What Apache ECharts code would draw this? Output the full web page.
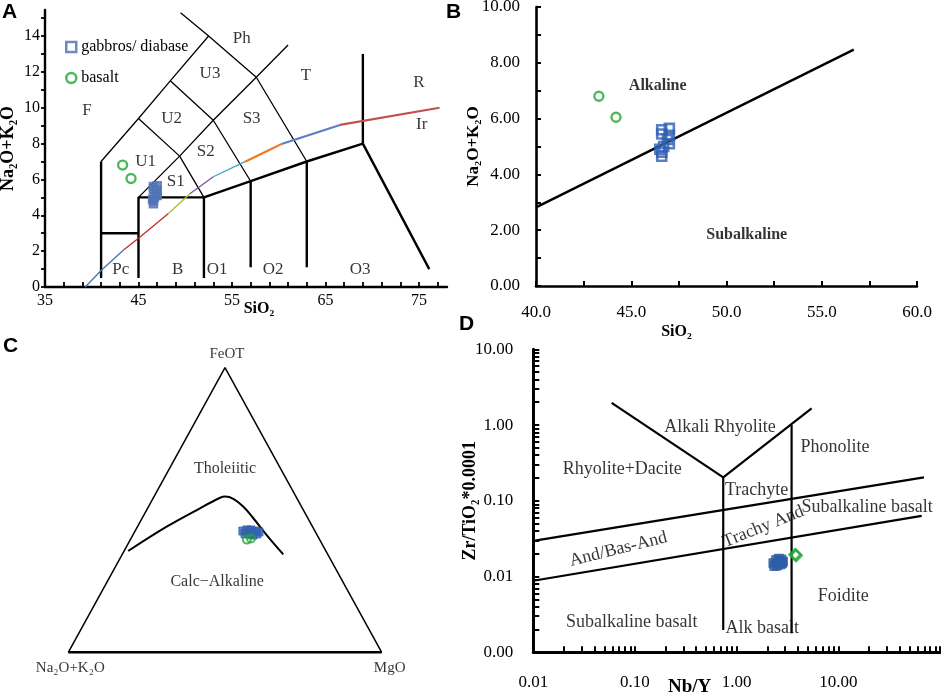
<!DOCTYPE html>
<html><head><meta charset="utf-8">
<script src="https://cdn.jsdelivr.net/npm/echarts@6/dist/echarts.min.js"></script>
<style>html,body{margin:0;padding:0;background:#fff}#c{width:941px;height:694px}</style>
</head><body><div id="c"></div>
<script>
// ================= DATA =================
// Samples, TAS space [SiO2, Na2O+K2O]  (panels A and B)
const gabbroTAS = [[46.6,5.6],[47.0,5.65],[46.6,5.45],[47.0,5.4],[46.9,5.25],[47.0,5.1],[46.7,5.0],[46.5,4.9],[46.6,4.8],[46.6,4.65]];
const basaltTAS = [[43.3,6.8],[44.2,6.05]];

// Panel A: TAS field boundaries
const tasThick = [
  [[41,0.5],[41,7]],
  [[41,3],[45,3]],
  [[45,0.5],[45,5],[52,5],[52,0.5]],
  [[52,5],[57,5.9],[63,7],[69,8]],
  [[57,1.1],[57,5.9]],
  [[63,1.1],[63,7]],
  [[69,8],[69,13]],
  [[69,8],[76.1,1.0]]
];
const tasThin = [
  [[41,7],[45,9.4],[48.4,11.5],[52.5,14],[57.6,11.7],[63,7]],
  [[45,5],[49.4,7.3],[53,9.3],[57.6,11.7],[61,13.5]],
  [[45,9.4],[49.4,7.3],[52,5]],
  [[48.4,11.5],[53,9.3],[57,5.9]],
  [[52.5,14],[49.5,15.3]]
];
// Irvine & Baragar alkaline/subalkaline curve (panel A)
const ibCurve = [[39.3,0],[41.06,0.95],[43.4,2.06],[45,2.72],[48.2,4.1],[50.5,5.2],[53.0,6.15],[56.4,6.99],[60.3,7.98],[66.55,9.04],[77.2,10.0]];
const ibBreaks = [[0,2],[2,4],[4,5],[5,6],[6,7],[7,8],[8,9],[9,10]];
const tasFields = [['F',39.5,9.87],['U1',45.77,6.99],['U2',48.55,9.41],['U3',52.65,11.88],['S1',48.98,5.87],['S2',52.2,7.55],['S3',57.1,9.41],['Ph',56.04,13.87],['T',62.9,11.82],['R',75.0,11.39],['Ir',75.3,9.04],['Pc',43.1,0.99],['B',49.2,0.99],['O1',53.4,0.99],['O2',59.4,0.99],['O3',68.7,0.99]];
const tasXTicks = [35,37,39,41,43,45,47,49,51,53,55,57,59,61,63,65,67,69,71,73,75,77];
const tasXLabels = [35,45,55,65,75];
const tasYTicks = [0,1,2,3,4,5,6,7,8,9,10,11,12,13,14,15];
const tasYLabels = [0,2,4,6,8,10,12,14];

// Panel B
const bDivide = [[40,2.82],[56.68,8.47]];
const bFields = [['Alkaline',46.39,7.16],['Subalkaline',51.06,1.85]];
const bXLabels = [40,45,50,55,60];
const bYLabels = [0,2,4,6,8,10];

// Panel C: AFM ternary, each point [A (Na2O+K2O), F (FeOT), M (MgO)]
const afmTriangle = [[100,0,0],[0,100,0],[0,0,100]];
const afmCurve = [[63.1,35.6,1.3],[46.5,44.1,9.3],[32.7,50.6,16.7],[24.4,54.3,21.3],[22.6,54.7,22.7],[20.4,53.9,25.7],[18.6,51.2,30.2],[17.4,47.1,35.5],[16.1,41.2,42.7],[14.2,34.4,51.4]];
const gabbroAFM = [[23.0,42.6,34.4],[21.5,43.0,35.5],[20.2,43.0,36.8],[19.1,42.6,38.3],[18.0,42.3,39.7],[22.8,41.6,35.6],[21.5,41.6,36.9],[20.5,41.2,38.3],[19.0,41.6,39.4],[20.8,42.3,36.9]];
const basaltAFM = [[23.2,39.6,37.2],[21.7,40.0,38.3]];
const afmFields = [['Tholeiitic',17.7,64.6,17.7],['Calc−Alkaline',40.1,24.8,35.1]];
const afmApexes = ['Na₂O+K₂O','FeOT','MgO'];

// Panel D: Nb/Y vs Zr/TiO2*0.0001 (log-log)
const gabbroNbY = [[2.3,0.0150],[2.45,0.0165],[2.6,0.0172],[2.75,0.0168],[2.85,0.0158],[2.7,0.0145],[2.5,0.0140],[2.35,0.0138],[2.6,0.0155],[2.8,0.0150]];
const basaltNbY = [[3.75,0.0195],[3.85,0.0190]];
const wfLines = [
  [[0.01,0.0296],[69.5,0.204]],
  [[0.01,0.0088],[66,0.0634]],
  [[0.738,0.204],[0.738,0.00197]],
  [[3.47,1.0],[3.47,0.00178]],
  [[0.059,1.96],[0.738,0.204],[5.46,1.66]]
];
const wfFields = [['Alkali Rhyolite',0.686,0.929,0],['Phonolite',9.27,0.515,0],['Rhyolite+Dacite',0.075,0.259,0],['Trachyte',1.57,0.138,0],['Subalkaline basalt',19.2,0.0834,0],['Trachy And',1.83,0.0454,22],['And/Bas-And',0.0686,0.0229,14],['Foidite',11.2,0.00553,0],['Subalkaline basalt',0.0928,0.00246,0],['Alk basalt',1.786,0.00207,0]];
const dXLabels = [0.01,0.1,1,10];
const dYLabels = [0.001,0.01,0.1,1,10];
const logMultipliers = [1,2,3,4,5,6,7,8,9];

// ================= BUILD =================
function logTicks(e0, e1) {
  const out = [];
  for (let e = e0; e < e1; e++) logMultipliers.forEach(k => out.push(Number((k * Math.pow(10, e)).toPrecision(3))));
  out.push(Math.pow(10, e1));
  return out;
}
const dXTicks = logTicks(-2, 2);
const dYTicks = logTicks(-3, 1);
function tern(p) { const s = p[0] + p[1] + p[2]; return [p[2] / s + p[1] / s / 2, p[1] / s]; }

const SERIF = 'Liberation Serif';
const INK = '#000';
const BLUE_A = '#5374b8', BLUE_B = '#2f5fb3', BLUE_C = '#3562b0', BLUE_D = '#2e5da6', GREEN = '#22a832';
const series = [];
function line(gi, pts, w, color, smooth) {
  series.push({type: 'line', xAxisIndex: gi, yAxisIndex: gi, data: pts, symbol: 'none', silent: true, clip: false,
    smooth: smooth || false, lineStyle: {color: color, width: w}, z: 2});
}
function labels(gi, items, style) {
  series.push({type: 'scatter', xAxisIndex: gi, yAxisIndex: gi, symbolSize: 0, silent: true, clip: false,
    itemStyle: {color: 'transparent'},
    data: items.map(it => ({name: it[0], value: [it[1], it[2]], label: it[3] ? {rotate: it[3]} : {}})),
    label: Object.assign({show: true, position: 'inside', formatter: '{b}', fontFamily: SERIF, color: INK}, style), z: 6});
}
function samples(gi, name, data, sym, size, color, bw, filled) {
  series.push({type: 'scatter', name: name, xAxisIndex: gi, yAxisIndex: gi, data: data, symbol: sym, symbolSize: size, clip: false,
    itemStyle: {color: filled ? color : 'rgba(255,255,255,0)', borderColor: color, borderWidth: bw}, z: 5});
}

// Panel A
tasThick.forEach(p => line(0, p, 2.4, '#000'));
tasThin.forEach(p => line(0, p, 1.3, '#000'));
const ibColors = ['#4a70b6', '#c8282d', '#a5bf3b', '#7a4fa3', '#37a7b8', '#f27a22', '#5b7ec2', '#c0504d'];
const ibWidths = [1.3, 1.3, 1.3, 1.3, 1.3, 2.2, 2.2, 2.2];
ibBreaks.forEach((b, i) => line(0, ibCurve.slice(b[0], b[1] + 1), ibWidths[i], ibColors[i]));
labels(0, tasFields, {fontSize: 17});
samples(0, 'gabbros/ diabase', gabbroTAS, 'rect', 8, BLUE_A, 1.5, true);
samples(0, 'basalt', basaltTAS, 'circle', 9, GREEN, 2.4, false);

// Panel B
line(1, bDivide, 2.4, '#000');
labels(1, bFields, {fontSize: 16, fontWeight: 'bold', letterSpacing: 0.6});
samples(1, 'gabbros/ diabase', gabbroTAS, 'rect', 9, BLUE_B, 2.6, false);
samples(1, 'basalt', basaltTAS, 'circle', 9, GREEN, 2.4, false);

// Panel C
line(2, [tern(afmTriangle[0]), tern(afmTriangle[1]), tern(afmTriangle[2])], 1.5, '#000');
line(2, [tern(afmTriangle[0]), tern(afmTriangle[2])], 2.6, '#000');
line(2, afmCurve.map(tern), 2, '#000', 0.35);
labels(2, afmFields.map(f => [f[0]].concat(tern([f[1], f[2], f[3]]))), {fontSize: 16, letterSpacing: 0.8});
series.push({type: 'scatter', xAxisIndex: 2, yAxisIndex: 2, symbolSize: 0, silent: true, clip: false, itemStyle: {color: 'transparent'},
  data: afmApexes.map((n, i) => ({name: n, value: tern(afmTriangle[i]),
    label: {position: i === 1 ? 'top' : 'bottom', distance: i === 1 ? 6 : 8, offset: i === 2 ? [8, 0] : [2, 0]}})),
  label: {show: true, formatter: '{b}', fontFamily: SERIF, fontSize: 15, color: INK}, z: 6});
samples(2, 'gabbros/ diabase', gabbroAFM.map(tern), 'rect', 8, BLUE_C, 1, true);
samples(2, 'basalt', basaltAFM.map(tern), 'circle', 8, GREEN, 2, false);

// Panel D
wfLines.forEach(p => line(3, p, 2.2, '#000'));
labels(3, wfFields, {fontSize: 18});
samples(3, 'gabbros/ diabase', gabbroNbY, 'rect', 9, BLUE_D, 1, true);
samples(3, 'basalt', basaltNbY, 'diamond', 11, GREEN, 2.4, false);

const tickLbl = (extra) => Object.assign({fontFamily: SERIF, color: INK}, extra);
const nameStyle = (extra) => Object.assign({fontFamily: SERIF, fontWeight: 'bold', color: INK}, extra);
const black = (w) => ({lineStyle: {color: '#000', width: w}});

const option = {
  animation: false,
  backgroundColor: '#fff',
  grid: [
    {left: 45, top: 10, width: 402, height: 277, outerBoundsMode: 'none', containLabel: false},
    {left: 536, top: 7, width: 381, height: 279, outerBoundsMode: 'none', containLabel: false},
    {left: 68.3, top: 367.7, width: 313.4, height: 284.6, outerBoundsMode: 'none', containLabel: false},
    {left: 533.3, top: 349.3, width: 406.7, height: 303, outerBoundsMode: 'none', containLabel: false}
  ],
  xAxis: [
    {gridIndex: 0, type: 'value', min: 35, max: 78, axisLine: Object.assign({onZero: false}, black(2.4)),
      axisTick: {inside: true, length: 5, customValues: tasXTicks, lineStyle: {color: '#000', width: 1.8}},
      axisLabel: tickLbl({customValues: tasXLabels, margin: 6, fontSize: 16}), splitLine: {show: false},
      name: 'SiO₂', nameLocation: 'middle', nameGap: 14, nameMoveOverlap: false, nameTextStyle: nameStyle({fontSize: 16, padding: [0, 0, 0, 26]})},
    {gridIndex: 1, type: 'value', min: 40, max: 60, interval: 2.5, axisLine: Object.assign({onZero: false}, black(2.6)),
      axisTick: {inside: true, length: 5, lineStyle: {color: '#000', width: 2}},
      axisLabel: tickLbl({customValues: bXLabels, margin: 18, fontSize: 17, formatter: v => Number(v).toFixed(1)}), splitLine: {show: false},
      name: 'SiO₂', nameLocation: 'middle', nameGap: 38, nameMoveOverlap: false, nameTextStyle: nameStyle({fontSize: 16, padding: [0, 100, 0, 0]})},
    {gridIndex: 2, type: 'value', min: 0, max: 1, show: false},
    {gridIndex: 3, type: 'log', logBase: 10, min: 0.01, max: 100, axisLine: Object.assign({onZero: false}, black(3)),
      axisTick: {inside: true, length: 6, customValues: dXTicks, lineStyle: {color: '#000', width: 2}},
      axisLabel: tickLbl({customValues: dXLabels, margin: 22, fontSize: 17, formatter: v => Number(v).toFixed(2)}), splitLine: {show: false},
      name: 'Nb/Y', nameLocation: 'middle', nameGap: 25, nameMoveOverlap: false, nameTextStyle: nameStyle({fontSize: 19, padding: [0, 94, 0, 0]})}
  ],
  yAxis: [
    {gridIndex: 0, type: 'value', min: 0, max: 15.45, axisLine: Object.assign({onZero: false}, black(2.4)),
      axisTick: {inside: false, length: 4, customValues: tasYTicks, lineStyle: {color: '#000', width: 1.8}},
      axisLabel: tickLbl({customValues: tasYLabels, margin: 5, fontSize: 16}), splitLine: {show: false},
      name: 'Na₂O+K₂O', nameLocation: 'middle', nameGap: 28, nameRotate: 90, nameMoveOverlap: false, nameTextStyle: nameStyle({fontSize: 18})},
    {gridIndex: 1, type: 'value', min: 0, max: 10, interval: 1, axisLine: Object.assign({onZero: false}, black(2.6)),
      axisTick: {inside: true, length: 5, lineStyle: {color: '#000', width: 2}},
      axisLabel: tickLbl({customValues: bYLabels, margin: 16, fontSize: 17, formatter: v => Number(v).toFixed(2)}), splitLine: {show: false},
      name: 'Na₂O+K₂O', nameLocation: 'middle', nameGap: 54, nameRotate: 90, nameMoveOverlap: false, nameTextStyle: nameStyle({fontSize: 17})},
    {gridIndex: 2, type: 'value', min: 0, max: 1, show: false},
    {gridIndex: 3, type: 'log', logBase: 10, min: 0.001, max: 10, axisLine: Object.assign({onZero: false}, black(3)),
      axisTick: {inside: true, length: 6, customValues: dYTicks, lineStyle: {color: '#000', width: 2}},
      axisLabel: tickLbl({customValues: dYLabels, margin: 20, fontSize: 17, formatter: v => Number(v).toFixed(2)}), splitLine: {show: false},
      name: 'Zr/TiO₂*0.0001', nameLocation: 'middle', nameGap: 54, nameRotate: 90, nameMoveOverlap: false, nameTextStyle: nameStyle({fontSize: 18})}
  ],
  legend: {
    left: 60, top: 34, orient: 'vertical', itemGap: 15, itemWidth: 10, itemHeight: 10, selectedMode: false,
    textStyle: {fontFamily: SERIF, fontSize: 16, color: INK},
    data: [
      {name: 'gabbros/ diabase', icon: 'rect', itemStyle: {color: 'rgba(255,255,255,0)', borderColor: '#4a6db5', borderWidth: 2.5}},
      {name: 'basalt', icon: 'circle', itemStyle: {color: 'rgba(255,255,255,0)', borderColor: GREEN, borderWidth: 2.5}}
    ]
  },
  graphic: [
    {type: 'text', left: 2, top: 2, style: {text: 'A', font: 'bold 21px "Liberation Sans"', fill: '#000'}},
    {type: 'text', left: 446, top: 2, style: {text: 'B', font: 'bold 21px "Liberation Sans"', fill: '#000'}},
    {type: 'text', left: 3, top: 336, style: {text: 'C', font: 'bold 21px "Liberation Sans"', fill: '#000'}},
    {type: 'text', left: 459, top: 314, style: {text: 'D', font: 'bold 21px "Liberation Sans"', fill: '#000'}}
  ],
  series: series
};
const chart = echarts.init(document.getElementById('c'), null, {renderer: 'canvas'});
chart.setOption(option);
</script></body></html>
